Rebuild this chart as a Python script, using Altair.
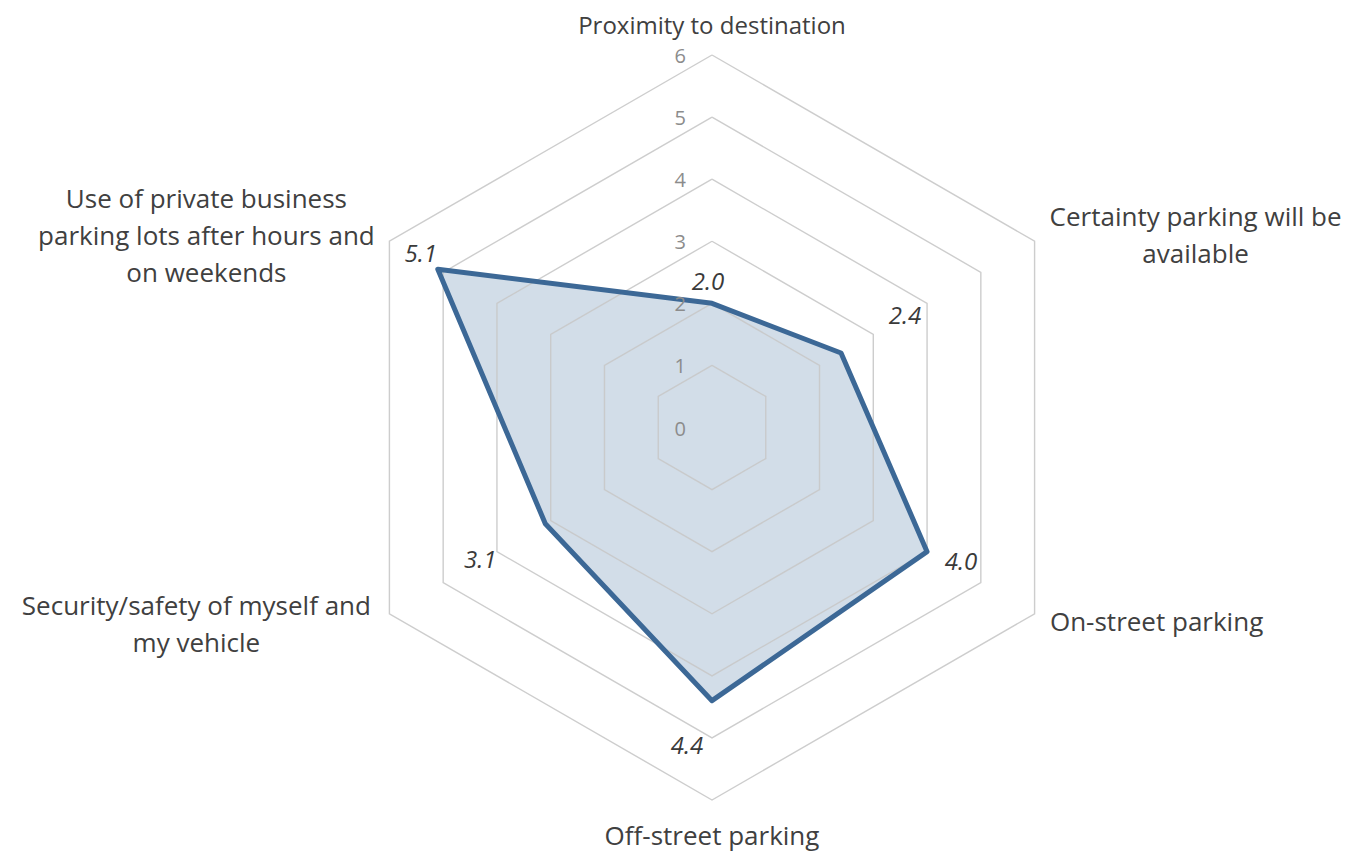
import math
import altair as alt
import pandas as pd

# ---------------- data ----------------
categories = [
    "Proximity to destination",
    "Certainty parking will be\navailable",
    "On-street parking",
    "Off-street parking",
    "Security/safety of myself and\nmy vehicle",
    "Use of private business\nparking lots after hours and\non weekends",
]
values = [2.0, 2.4, 4.0, 4.4, 3.1, 5.1]
value_labels = ["2.0", "2.4", "4.0", "4.4", "3.1", "5.1"]
ticks = [0, 1, 2, 3, 4, 5, 6]

# ---------------- layout (pixels) ----------------
W, H = 1336, 845
CX, CY = 704.0, 419.5          # centre of the radar inside the plot area
R_MAX = 372.5                  # pixel radius of the outer ring
N = len(categories)
RMAX_VAL = max(ticks)
PPU = R_MAX / RMAX_VAL
xdom = [-CX / PPU, (W - CX) / PPU]
ydom = [-(H - CY) / PPU, CY / PPU]

# per-label pixel offsets (styling only); for multi-line labels the offset is the first line
cat_offsets = [(0, -28), (161, -23), (122, 9), (0, 37), (-193, -7), (-183, -41)]
cat_sizes = [24, 26, 26, 26, 26, 26]
val_offsets = [(-4, -20), (64, -36), (34, 11), (-25, 46), (-65, 37), (-17, -14)]

series = pd.DataFrame({
    "idx": list(range(N)),
    "category": categories,
    "value": values,
    "vlabel": value_labels,
    "rmax": [RMAX_VAL] * N,
})

grid = pd.DataFrame(
    [{"level": lv, "k": k} for lv in ticks[1:] for k in range(N + 1)]
)
tick_df = pd.DataFrame({"level": ticks, "tlabel": [str(t) for t in ticks]})

xs = alt.Scale(domain=xdom, nice=False, zero=False)
ys = alt.Scale(domain=ydom, nice=False, zero=False)
ANG = f"2*PI/{N}"


def XY(field_x="px", field_y="py"):
    return dict(
        x=alt.X(f"{field_x}:Q", scale=xs, axis=None),
        y=alt.Y(f"{field_y}:Q", scale=ys, axis=None),
    )


pts = alt.Chart(series).transform_calculate(
    px=f"datum.value*sin(datum.idx*{ANG})",
    py=f"datum.value*cos(datum.idx*{ANG})",
    vx=f"datum.rmax*sin(datum.idx*{ANG})",
    vy=f"datum.rmax*cos(datum.idx*{ANG})",
)

fill_layer = pts.mark_line(
    interpolate="linear-closed", fill="#d2dde8", fillOpacity=1,
    stroke="transparent", strokeWidth=0,
).encode(order=alt.Order("idx:Q"), **XY())

grid_layer = alt.Chart(grid).transform_calculate(
    px=f"datum.level*sin(datum.k*{ANG})",
    py=f"datum.level*cos(datum.k*{ANG})",
).mark_line(color="#c8c8c8", strokeWidth=1.4, opacity=0.9).encode(
    detail="level:N", order=alt.Order("k:Q"), **XY()
)

stroke_layer = pts.mark_line(
    interpolate="linear-closed", color="#3c6896", strokeWidth=5,
    strokeJoin="round",
).encode(order=alt.Order("idx:Q"), **XY())

tick_layer = alt.Chart(tick_df).transform_calculate(
    px="0", py="datum.level"
).mark_text(
    align="right", baseline="middle", dx=-26, dy=2, fontSize=20,
    font="Open Sans", color="#8c8c8c",
).encode(text="tlabel:N", **XY())

layers = [fill_layer, grid_layer, stroke_layer, tick_layer]

for i in range(N):
    dx, dy = val_offsets[i]
    layers.append(
        pts.transform_filter(f"datum.idx == {i}").mark_text(
            align="center", baseline="middle", dx=dx, dy=dy, fontSize=24,
            font="Open Sans", fontStyle="italic", color="#3a3a3a",
        ).encode(text="vlabel:N", **XY())
    )
    cdx, cdy = cat_offsets[i]
    layers.append(
        pts.transform_filter(f"datum.idx == {i}").mark_text(
            align="center", baseline="middle", dx=cdx, dy=cdy,
            fontSize=cat_sizes[i],
            font="Open Sans", color="#404040", lineBreak="\n", lineHeight=37,
        ).encode(text="category:N", **XY("vx", "vy"))
    )

chart = alt.layer(*layers).properties(
    width=W, height=H,
    autosize=alt.AutoSizeParams(type="none"),
    padding=0,
    background="white",
).configure_view(stroke=None)

chart.save("out.html", embed_options={"renderer": "svg", "actions": False})
